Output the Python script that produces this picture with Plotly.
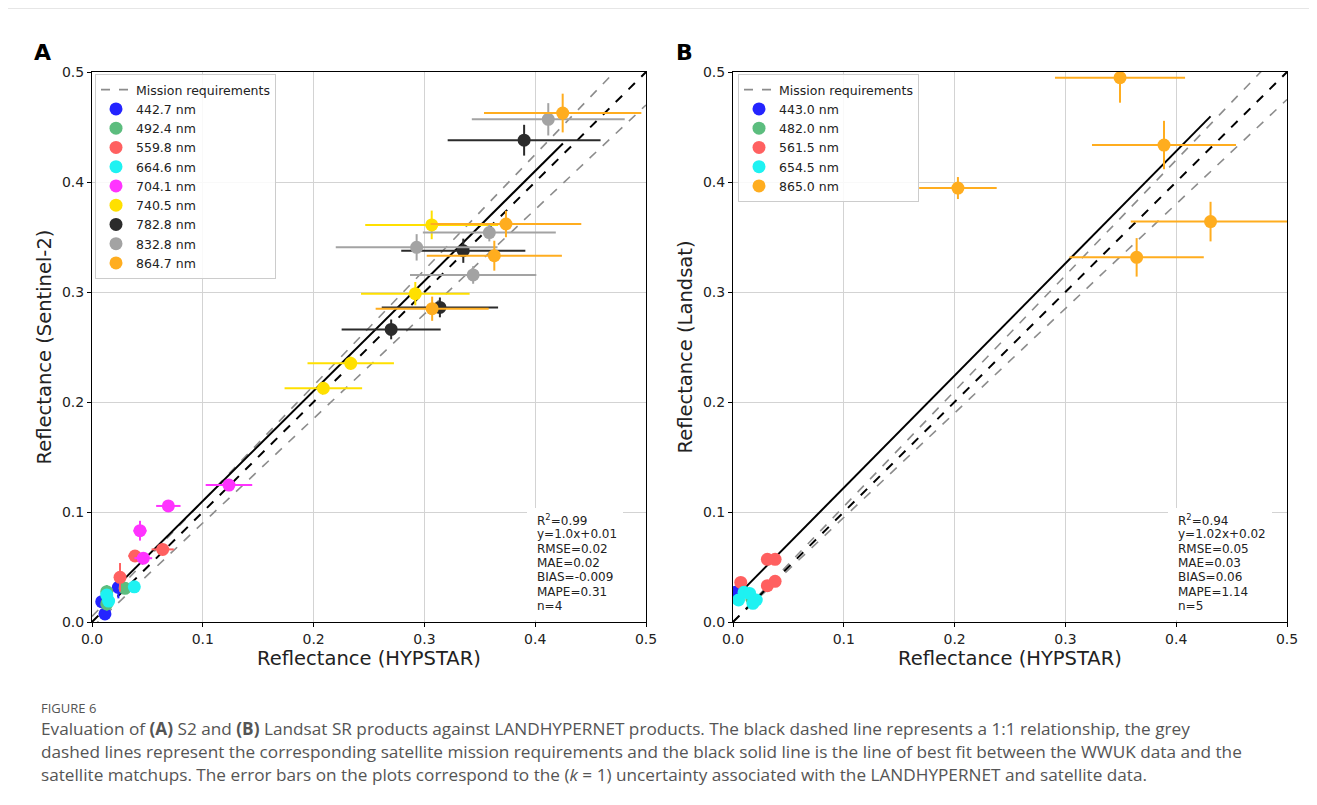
import plotly.graph_objects as go

# ---------------- Panel A (Sentinel-2) data ----------------
A_labels = ["442.7 nm", "492.4 nm", "559.8 nm", "664.6 nm", "704.1 nm",
            "740.5 nm", "782.8 nm", "832.8 nm", "864.7 nm"]
A_x = [
    [0.0088, 0.0117, 0.0238],
    [0.0133, 0.0133, 0.0298],
    [0.0253, 0.0388, 0.0638],
    [0.0133, 0.0150, 0.0382],
    [0.0433, 0.0463, 0.0689, 0.1236],
    [0.2088, 0.2335, 0.2918, 0.3066],
    [0.2700, 0.3140, 0.3351, 0.3900],
    [0.2930, 0.3440, 0.3586, 0.4118],
    [0.3070, 0.3631, 0.3736, 0.4248],
]
A_y = [
    [0.0185, 0.0073, 0.0315],
    [0.0276, 0.0164, 0.0306],
    [0.0406, 0.0600, 0.0660],
    [0.0245, 0.0190, 0.0320],
    [0.0830, 0.0580, 0.1055, 0.1245],
    [0.2125, 0.2352, 0.2985, 0.3610],
    [0.2660, 0.2860, 0.3375, 0.4380],
    [0.3406, 0.3155, 0.3540, 0.4570],
    [0.2848, 0.3330, 0.3618, 0.4627],
]
A_xerr = [
    [0.003, 0.003, 0.004],
    [0.004, 0.004, 0.004],
    [0.005, 0.006, 0.010],
    [0.004, 0.004, 0.005],
    [0.006, 0.008, 0.011, 0.021],
    [0.035, 0.039, 0.049, 0.060],
    [0.0447, 0.0525, 0.056, 0.069],
    [0.073, 0.057, 0.060, 0.069],
    [0.051, 0.061, 0.068, 0.071],
]
A_yerr = [
    [0.004, 0.004, 0.010],
    [0.006, 0.006, 0.005],
    [0.013, 0.005, 0.005],
    [0.004, 0.004, 0.004],
    [0.009, 0.004, 0.004, 0.004],
    [0.005, 0.006, 0.0106, 0.013],
    [0.009, 0.009, 0.011, 0.014],
    [0.012, 0.008, 0.008, 0.0147],
    [0.011, 0.0136, 0.012, 0.0176],
]
A_colors = ["#2424ff", "#5cbd7e", "#ff6060", "#1ef2f2", "#ff33ff",
            "#ffe000", "#2b2b2b", "#a3a3a3", "#ffad1f"]
A_fit = (1.0, 0.01)
A_fit_xrange = [0.009, 0.425]
A_req = (0.05, 0.005)  # relative, absolute
A_stats = ["R<sup>2</sup>=0.99", "y=1.0x+0.01", "RMSE=0.02", "MAE=0.02",
           "BIAS=-0.009", "MAPE=0.31", "n=4"]

# ---------------- Panel B (Landsat) data ----------------
B_labels = ["443.0 nm", "482.0 nm", "561.5 nm", "654.5 nm", "865.0 nm"]
B_x = [
    [0.002],
    [0.017],
    [0.007, 0.031, 0.038, 0.031, 0.038],
    [0.005, 0.010, 0.015, 0.021, 0.018],
    [0.203, 0.3493, 0.3643, 0.389, 0.431],
]
B_y = [
    [0.027],
    [0.021],
    [0.036, 0.057, 0.057, 0.033, 0.037],
    [0.020, 0.027, 0.026, 0.020, 0.017],
    [0.3945, 0.4948, 0.3315, 0.4336, 0.364],
]
B_xerr = [
    [0.002],
    [0.002],
    [0.003, 0.003, 0.003, 0.003, 0.003],
    [0.003, 0.003, 0.003, 0.003, 0.003],
    [0.035, 0.0587, 0.0606, 0.065, 0.072],
]
B_yerr = [
    [0.002],
    [0.002],
    [0.003, 0.003, 0.003, 0.003, 0.003],
    [0.003, 0.003, 0.003, 0.003, 0.003],
    [0.010, 0.0227, 0.0175, 0.022, 0.018],
]
B_colors = ["#2424ff", "#5cbd7e", "#ff6060", "#1ef2f2", "#ffad1f"]
B_fit = (1.02, 0.02)
B_fit_xrange = [0.003, 0.431]
B_req = (0.05, 0.0)
B_stats = ["R<sup>2</sup>=0.94", "y=1.02x+0.02", "RMSE=0.05", "MAE=0.03",
           "BIAS=0.06", "MAPE=1.14", "n=5"]

ticks = [0.0, 0.1, 0.2, 0.3, 0.4, 0.5]
tick_text = ["0.0", "0.1", "0.2", "0.3", "0.4", "0.5"]
line_x = [0.0, 0.5]

caption_lines = [
    "Evaluation of <b>(A)</b> S2 and <b>(B)</b> Landsat SR products against LANDHYPERNET products. The black dashed line represents a 1:1 relationship, the grey",
    "dashed lines represent the corresponding satellite mission requirements and the black solid line is the line of best fit between the WWUK data and the",
    "satellite matchups. The error bars on the plots correspond to the (<i>k</i> = 1) uncertainty associated with the LANDHYPERNET and satellite data.",
]

# page body has an 8px margin: the figure is placed at (8, 8) in the window
OFF = 8
W, H = 1317 - 2 * OFF, 805 - 2 * OFF
FONT = "DejaVu Sans"
PLOT_TOP, PLOT_BOT = 72, 622
PLOT_H = PLOT_BOT - PLOT_TOP
PLOT_W = 554


def px(x):
    return (x - OFF) / W


def py(y):
    return 1 - (y - OFF) / H


fig = go.Figure()


def add_panel(xa, ya, legend, labels, xs, ys, xes, yes, colors, fit, fit_xr, req):
    rel, ab = req
    up = [v * (1 + rel) + ab for v in line_x]
    lo = [v * (1 - rel) - ab for v in line_x]
    fig.add_trace(go.Scatter(x=line_x, y=up, mode="lines", name="Mission requirements",
                             line=dict(color="#8c8c8c", width=1.6, dash="dash"),
                             xaxis=xa, yaxis=ya, legend=legend, showlegend=True))
    fig.add_trace(go.Scatter(x=line_x, y=lo, mode="lines", showlegend=False,
                             line=dict(color="#8c8c8c", width=1.6, dash="dash"),
                             xaxis=xa, yaxis=ya, legend=legend))
    fig.add_trace(go.Scatter(x=line_x, y=line_x, mode="lines", showlegend=False,
                             line=dict(color="black", width=2, dash="dash"),
                             xaxis=xa, yaxis=ya, legend=legend))
    fy = [fit[0] * v + fit[1] for v in fit_xr]
    fig.add_trace(go.Scatter(x=fit_xr, y=fy, mode="lines", showlegend=False,
                             line=dict(color="black", width=2),
                             xaxis=xa, yaxis=ya, legend=legend))
    for lab, x, y, xe, ye, c in zip(labels, xs, ys, xes, yes, colors):
        fig.add_trace(go.Scatter(
            x=x, y=y, mode="markers", name=lab,
            marker=dict(color=c, size=13, line=dict(width=0)),
            error_x=dict(type="data", array=xe, color=c, thickness=2, width=0),
            error_y=dict(type="data", array=ye, color=c, thickness=2, width=0),
            xaxis=xa, yaxis=ya, legend=legend))


add_panel("x", "y", "legend", A_labels, A_x, A_y, A_xerr, A_yerr, A_colors, A_fit, A_fit_xrange, A_req)
add_panel("x2", "y2", "legend2", B_labels, B_x, B_y, B_xerr, B_yerr, B_colors, B_fit, B_fit_xrange, B_req)

ydom = [py(PLOT_BOT), py(PLOT_TOP)]
axis_common = dict(range=[0, 0.5], tickvals=ticks, ticktext=tick_text,
                   showgrid=True, gridcolor="#d3d3d3", gridwidth=1,
                   showline=True, linecolor="black", linewidth=1, mirror=True,
                   ticks="outside", ticklen=4, tickcolor="black",
                   tickfont=dict(family=FONT, size=14, color="#222222"),
                   zeroline=False, fixedrange=True, automargin=False)
TF = dict(family=FONT, size=19.5, color="#222222")
LEGF = dict(family=FONT, size=12.5, color="#222222")

fig.update_layout(
    width=W, height=H,
    margin=dict(l=0, r=0, t=0, b=0, autoexpand=False),
    paper_bgcolor="white", plot_bgcolor="white",
    font=dict(family=FONT, color="#222222"),
    xaxis=dict(domain=[px(92), px(646)], anchor="y",
               title=dict(text="Reflectance (HYPSTAR)", font=TF, standoff=3), **axis_common),
    yaxis=dict(domain=ydom, anchor="x",
               title=dict(text="Reflectance (Sentinel-2)", font=TF, standoff=5), **axis_common),
    xaxis2=dict(domain=[px(733), px(1287)], anchor="y2",
                title=dict(text="Reflectance (HYPSTAR)", font=TF, standoff=3), **axis_common),
    yaxis2=dict(domain=ydom, anchor="x2",
                title=dict(text="Reflectance (Landsat)", font=TF, standoff=5), **axis_common),
    legend=dict(x=px(95), y=py(74), xanchor="left", yanchor="top",
                bgcolor="rgba(255,255,255,0.85)", bordercolor="#cccccc", borderwidth=1,
                font=LEGF, tracegroupgap=0),
    legend2=dict(x=px(738), y=py(74), xanchor="left", yanchor="top",
                 bgcolor="rgba(255,255,255,0.85)", bordercolor="#cccccc", borderwidth=1,
                 font=LEGF, tracegroupgap=0),
)

annotations = []
shapes = []
# stats boxes: white box then one text line each
box_right = {"x": 623, "x2": 1272}
panel_left = {"x": 92, "x2": 733}
for ax, ay, stats in [("x", "y", A_stats), ("x2", "y2", B_stats)]:
    shapes.append(dict(type="rect", xref=ax + " domain", yref=ay + " domain",
                       x0=(527 - 92) / PLOT_W, x1=(box_right[ax] - panel_left[ax]) / PLOT_W,
                       y0=0.003, y1=(PLOT_BOT - 508) / PLOT_H,
                       fillcolor="white", line=dict(width=0), layer="above"))
    for i, s in enumerate(stats):
        yc = 520 + 14.3 * i
        annotations.append(dict(xref=ax + " domain", yref=ay + " domain",
                                x=(536 - 92) / PLOT_W, y=(PLOT_BOT - yc) / PLOT_H,
                                xanchor="left", yanchor="middle", text=s, showarrow=False,
                                borderpad=0, font=dict(family=FONT, size=12, color="#222222")))
# panel letters
annotations.append(dict(xref="paper", yref="paper", x=px(42), y=py(52), xanchor="center", yanchor="middle",
                        text="<b>A</b>", showarrow=False, font=dict(family=FONT, size=22, color="black")))
annotations.append(dict(xref="paper", yref="paper", x=px(684), y=py(52), xanchor="center", yanchor="middle",
                        text="<b>B</b>", showarrow=False, font=dict(family=FONT, size=22, color="black")))
# caption
annotations.append(dict(xref="paper", yref="paper", x=px(39), y=py(708), xanchor="left", yanchor="middle",
                        text="FIGURE 6", showarrow=False, font=dict(family="Open Sans", size=13, color="#555555")))
for i, line in enumerate(caption_lines):
    annotations.append(dict(xref="paper", yref="paper", x=px(39), y=py(728 + 23 * i),
                            xanchor="left", yanchor="middle", text=line, showarrow=False,
                            font=dict(family="Open Sans", size=17.2, color="#555555")))

shapes.append(dict(type="line", xref="paper", yref="paper", x0=0, x1=1, y0=py(8.5), y1=py(8.5),
                   line=dict(color="#e6e6e6", width=1)))
fig.update_layout(annotations=annotations, shapes=shapes)

fig.write_html("out.html")
